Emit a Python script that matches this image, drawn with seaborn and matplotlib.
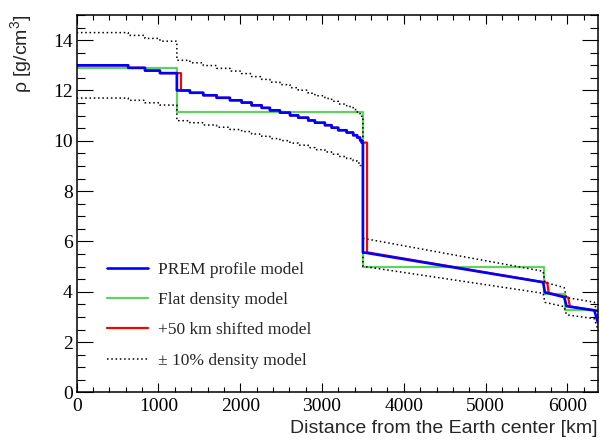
import numpy as np
import pandas as pd
import seaborn as sns
import matplotlib
matplotlib.use("Agg")
import matplotlib.pyplot as plt
from matplotlib.ticker import MultipleLocator

# ---------------- data ----------------
# PREM profile: core as steps (edges in km, levels in g/cm^3)
core_edges_km = [0, 630, 835, 1018, 1225, 1385, 1548, 1711, 1874, 2017, 2139,
                 2262, 2363, 2485, 2608, 2709, 2831, 2913, 3035, 3117, 3198,
                 3301, 3381, 3430, 3465, 3485, 3500]
core_levels = [13.00, 12.90, 12.79, 12.69, 12.00, 11.91, 11.81, 11.71, 11.61,
               11.52, 11.41, 11.31, 11.21, 11.12, 11.01, 10.92, 10.81, 10.72,
               10.62, 10.52, 10.42, 10.33, 10.22, 10.13, 10.02, 9.93]
# PREM profile: mantle and crust as points joined by lines
mantle_km = [3500, 5704, 5725, 5961, 5990, 6330, 6371]
mantle_rho = [5.57, 4.38, 3.98, 3.79, 3.43, 3.26, 2.80]

# +50 km shifted model: same levels, layer boundaries moved outwards
shifted_core_edges_km = [0, 630, 835, 1018, 1275, 1385, 1548, 1711, 1874,
                         2017, 2139, 2262, 2363, 2485, 2608, 2709, 2831, 2913,
                         3035, 3117, 3198, 3301, 3381, 3430, 3465, 3485, 3550]
shifted_mantle_km = [3550, 5754, 5772, 6011, 6030, 6371]
shifted_mantle_rho = [5.57, 4.36, 3.96, 3.77, 3.42, 3.25]

# Flat density model (edges in km, levels in g/cm^3)
flat_edges_km = [0, 1225, 3500, 5712, 5975, 6371]
flat_levels = [12.88, 11.15, 4.97, 3.92, 3.29]

variation = 0.10       # "± 10% density model"

labels = ["PREM profile model", "Flat density model",
          "+50 km shifted model", "± 10% density model"]

# ---------------- build paths ----------------
def step_path(edges, levels):
    xs, ys = [], []
    for i, lv in enumerate(levels):
        xs += [edges[i], edges[i + 1]]
        ys += [lv, lv]
    return xs, ys

px, py = step_path(core_edges_km, core_levels)
px += mantle_km
py += mantle_rho
prem = pd.DataFrame({"r": px, "rho": py})

sx, sy = step_path(shifted_core_edges_km, core_levels)
sx += shifted_mantle_km
sy += shifted_mantle_rho
shifted = pd.DataFrame({"r": sx, "rho": sy})

fx, fy = step_path(flat_edges_km, flat_levels)
flat = pd.DataFrame({"r": fx, "rho": fy})

upper = pd.DataFrame({"r": px, "rho": [v * (1 + variation) for v in py]})
lower = pd.DataFrame({"r": px, "rho": [v * (1 - variation) for v in py]})

# ---------------- plot ----------------
sns.set_style("ticks")
plt.rcParams["font.family"] = ["Liberation Serif", "DejaVu Serif"]
plt.rcParams["mathtext.default"] = "regular"

fig = plt.figure(figsize=(6.01, 4.41), dpi=100)
ax = fig.add_axes([0.1276, 0.110, 0.8669, 0.856])

green = "#5fd35f"
sns.lineplot(data=flat, x="r", y="rho", sort=False, estimator=None, ax=ax,
             color=green, linewidth=1.6, label=labels[1])
sns.lineplot(data=shifted, x="r", y="rho", sort=False, estimator=None, ax=ax,
             color="#ff0000", linewidth=1.6, label=labels[2])
sns.lineplot(data=upper, x="r", y="rho", sort=False, estimator=None, ax=ax,
             color="black", linewidth=1.1, linestyle=(0, (1, 1.8)),
             label=labels[3])
sns.lineplot(data=lower, x="r", y="rho", sort=False, estimator=None, ax=ax,
             color="black", linewidth=1.1, linestyle=(0, (1, 1.8)),
             label="_nolegend_")
sns.lineplot(data=prem, x="r", y="rho", sort=False, estimator=None, ax=ax,
             color="#0000ff", linewidth=1.9, label=labels[0])

ax.set_xlim(0, 6371)
ax.set_ylim(0, 15)

ax.xaxis.set_major_locator(MultipleLocator(1000))
ax.xaxis.set_minor_locator(MultipleLocator(200))
ax.yaxis.set_major_locator(MultipleLocator(2))
ax.yaxis.set_minor_locator(MultipleLocator(0.5))

ax.tick_params(axis="both", which="both", direction="in", top=True,
               right=True, colors="black", width=0.8)
ax.tick_params(axis="x", which="major", length=6.8, labelsize=14, pad=4)
ax.tick_params(axis="x", which="minor", length=3.3)
ax.tick_params(axis="y", which="major", length=11.5, labelsize=14, pad=3)
ax.tick_params(axis="y", which="minor", length=5.8)
for sp in ax.spines.values():
    sp.set_linewidth(1.1)
    sp.set_color("black")

ax.set_xlabel("Distance from the Earth center [km]", family="Liberation Sans",
              fontsize=14, loc="right")
ax.xaxis.set_label_coords(1.0, -0.072)
ax.xaxis.label.set_va("top")
ax.set_ylabel("ρ [g/cm$^{3}$]", family="Liberation Sans", fontsize=14,
              loc="top")
ax.yaxis.set_label_coords(-0.082, 1.0)

h, l = ax.get_legend_handles_labels()
order = [l.index(s) for s in labels]
ax.legend([h[i] for i in order], [l[i] for i in order], loc="upper left",
          bbox_to_anchor=(0.0576, 0.347), frameon=False, fontsize=12.5,
          handlelength=2.4, handletextpad=0.55, labelspacing=0.82,
          borderpad=0, borderaxespad=0)

fig.savefig("out.png", dpi=100)
